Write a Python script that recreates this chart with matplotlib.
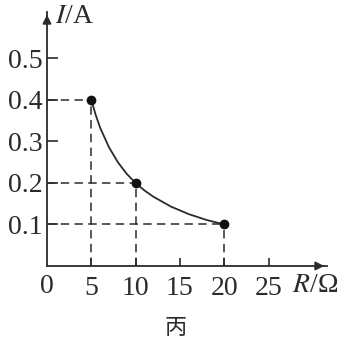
import matplotlib.pyplot as plt

# measured points and curve readings (R in ohm, I in A)
r_pts = [5, 10, 20]
i_pts = [0.4, 0.2, 0.1]
r_curve = [5, 5.5, 6, 7, 8, 9, 10, 11, 12, 14, 16, 18, 20]
i_curve = [0.40, 0.364, 0.333, 0.286, 0.25, 0.222, 0.20, 0.182, 0.167, 0.143, 0.125, 0.111, 0.10]
x_ticks = [5, 10, 15, 20, 25]
y_ticks = [0.1, 0.2, 0.3, 0.4, 0.5]

col = '#2b2b2b'
serif = 'Liberation Serif'
fs = 20

fig = plt.figure(figsize=(3.47, 3.43), dpi=100)
ax = fig.add_axes([0.1354, 0.2245, 0.807, 0.7405])
ax.set_xlim(0, 31.6)
ax.set_ylim(0, 0.612)

for s in ['top', 'right']:
    ax.spines[s].set_visible(False)
for s in ['left', 'bottom']:
    ax.spines[s].set_color(col)
    ax.spines[s].set_linewidth(1.3)

# axis arrows
ax.annotate('', xy=(1.0, 0), xycoords='axes fraction', xytext=(0.97, 0),
            arrowprops=dict(arrowstyle='-|>', color=col, lw=1.2, mutation_scale=13))
ax.annotate('', xy=(0, 1.0), xycoords='axes fraction', xytext=(0, 0.97),
            arrowprops=dict(arrowstyle='-|>', color=col, lw=1.2, mutation_scale=13))

# dashed guide lines
dash = (0, (5.5, 3.5))
for r, i in zip(r_pts, i_pts):
    ax.plot([0, r], [i, i], ls=dash, color=col, lw=1.1)
    ax.plot([r, r], [0, i], ls=dash, color=col, lw=1.1)

ax.plot(r_curve, i_curve, color=col, lw=1.3)
ax.plot(r_pts, i_pts, 'o', color='#111111', ms=6)

ax.set_xticks(x_ticks)
ax.set_yticks(y_ticks)
ax.set_xticklabels([str(t) for t in x_ticks], fontfamily=serif, fontsize=fs)
ax.set_yticklabels([str(t) for t in y_ticks], fontfamily=serif, fontsize=fs)
ax.tick_params(axis='both', direction='in', color=col, labelcolor=col, width=1.2)
ax.tick_params(axis='x', length=6, pad=7)
ax.tick_params(axis='y', length=8, pad=3)

ax.text(0, -0.05, '0', fontfamily=serif, fontsize=fs, color=col, ha='center', va='center')
ax.text(0.9, 0.6, '$I$/A', fontfamily=serif, fontsize=fs, color=col, ha='left', va='center',
        math_fontfamily='stix')
ax.text(32.9, -0.048, '$R$/Ω', fontfamily=serif, fontsize=fs, color=col, ha='right', va='center',
        math_fontfamily='stix')
fig.text(176 / 347, 1 - 328 / 343, '丙', fontfamily='Noto Sans CJK SC', fontsize=16,
         color=col, ha='center', va='center')

fig.savefig('out.png', dpi=100)
